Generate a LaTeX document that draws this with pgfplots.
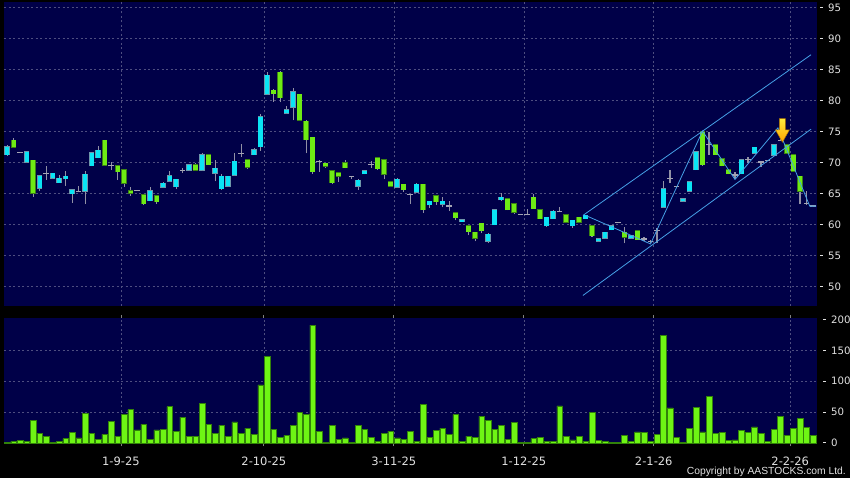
\documentclass[border=0pt]{standalone}
\usepackage{fontspec}
\setmainfont{DejaVu Sans}
\newfontfamily\libsans{Liberation Sans}
\usepackage{pgfplots}
\usepackage{pgfplotstable}
\pgfplotsset{compat=1.18}

\definecolor{navy}{RGB}{0,0,72}
\definecolor{gridc}{RGB}{78,78,128}
\definecolor{cyanc}{RGB}{10,228,245}
\definecolor{cyanb}{RGB}{110,150,170}
\definecolor{greenc}{RGB}{110,235,20}
\definecolor{greenb}{RGB}{60,130,20}
\definecolor{dojic}{RGB}{165,165,180}
\definecolor{wickc}{RGB}{145,145,165}
\definecolor{trendc}{RGB}{70,160,230}
\definecolor{volfill}{RGB}{110,245,20}
\definecolor{voledge}{RGB}{50,130,10}
\definecolor{labelc}{RGB}{225,225,225}
\definecolor{arrowtop}{RGB}{255,235,60}
\definecolor{arrowbot}{RGB}{255,165,0}
\definecolor{arrowedge}{RGB}{170,110,0}

\newcommand{\ytl}[1]{\rule[3.3pt]{3pt}{0.8pt}\hspace{5pt}#1}

\pgfplotsset{nomark/.style={only marks, mark=*, mark size=0pt, mark options={draw=none, fill=none}}}

\pgfplotstableread{
n o h l c
1 71.3 72.8 71.1 72.6
2 73.6 73.9 72.4 72.5
3 71.7 71.8 71.6 71.7
4 70.1 71.9 70.0 71.8
5 70.4 70.5 64.5 65.1
6 65.9 68.0 65.5 67.9
7 68.2 69.4 67.2 68.2
8 67.5 68.4 67.4 68.3
9 66.8 68.0 66.7 67.5
10 67.4 68.6 66.3 67.8
11 65.0 65.7 63.5 65.6
12 65.4 66.3 65.3 65.4
13 65.4 68.6 63.3 68.1
14 69.5 71.7 69.4 71.6
15 70.8 72.7 70.7 72.0
16 73.6 73.7 69.5 69.6
17 69.5 70.1 68.8 69.5
18 69.5 69.6 67.2 68.5
19 68.9 69.0 66.1 66.7
20 65.5 66.1 64.7 65.1
21 65.5 65.6 65.4 65.5
22 64.8 64.9 63.1 63.4
23 63.9 66.0 63.8 65.5
24 64.7 64.8 63.3 63.7
25 66.0 66.9 65.9 66.7
26 67.0 68.6 66.9 67.9
27 66.1 67.4 65.7 67.3
28 68.8 69.2 68.4 68.8
29 68.8 69.8 68.7 69.7
30 69.7 69.9 68.7 68.8
31 68.8 71.5 68.7 71.3
32 71.3 71.4 69.6 69.7
33 68.3 70.5 67.0 69.1
34 65.8 68.2 65.6 67.8
35 66.2 67.9 66.1 67.8
36 68.0 71.6 67.9 70.2
37 71.5 73.0 70.9 71.5
38 70.5 70.6 69.0 69.3
39 71.3 72.4 71.2 72.1
40 72.6 77.8 71.9 77.4
41 81.0 84.6 80.9 84.1
42 81.7 81.8 79.8 81.1
43 84.6 84.7 79.7 80.5
44 78.0 79.1 77.9 78.5
45 78.9 82.1 76.8 81.4
46 81.0 81.1 76.7 76.8
47 76.7 76.8 71.5 73.7
48 74.1 74.2 68.2 68.5
49 70.2 70.5 68.5 70.2
50 69.9 70.0 69.2 69.4
51 68.7 68.8 66.5 66.8
52 68.4 68.5 66.9 67.8
53 70.0 70.5 69.1 69.2
54 67.8 67.9 67.3 67.8
55 66.2 67.3 65.6 67.2
56 68.2 68.8 68.1 68.7
57 69.7 70.2 69.2 69.7
58 70.8 70.9 68.9 69.0
59 70.5 70.6 67.3 68.1
60 66.9 67.0 66.1 66.2
61 66.0 67.5 65.9 67.3
62 66.5 66.6 65.3 65.6
63 64.9 65.0 63.4 64.9
64 65.2 66.7 65.1 66.5
65 66.5 66.6 61.9 62.4
66 63.2 63.9 62.7 63.8
67 64.7 64.8 63.2 63.7
68 63.3 64.4 62.8 63.8
69 63.0 63.8 62.2 63.0
70 61.9 62.0 60.7 61.1
71 60.5 60.9 60.4 60.8
72 59.8 59.9 58.3 58.9
73 58.8 58.9 57.3 57.8
74 60.2 60.3 58.6 59.0
75 57.3 58.7 57.1 58.5
76 60.0 62.5 59.9 62.4
77 64.0 65.1 63.9 64.4
78 64.2 64.3 62.3 62.4
79 63.4 63.5 61.7 62.0
80 61.7 61.8 61.6 61.7
81 61.7 62.5 61.5 61.7
82 64.4 65.0 62.5 62.6
83 62.4 62.5 60.9 61.0
84 59.8 61.3 59.7 61.2
85 61.0 62.3 60.9 62.2
86 62.1 62.8 62.0 62.1
87 61.6 61.7 60.3 60.4
88 59.8 60.8 59.5 60.7
89 61.2 61.3 60.3 60.4
90 61.0 61.6 60.9 61.5
91 59.8 59.9 58.0 58.2
92 57.3 57.8 57.2 57.7
93 57.8 58.9 57.7 58.8
94 59.2 59.9 59.1 59.8
95 60.4 60.5 60.3 60.4
96 58.8 59.7 57.0 58.0
97 57.8 58.3 57.7 58.2
98 59.0 59.1 57.5 57.6
99 57.7 58.0 57.4 57.7
100 57.3 57.5 57.1 57.3
101 59.1 59.4 57.0 59.1
102 62.8 67.1 62.7 65.8
103 67.5 68.8 66.8 67.5
104 66.1 66.2 66.0 66.1
105 63.8 64.3 63.7 64.2
106 65.4 67.0 65.3 66.9
107 68.9 71.9 68.8 71.8
108 75.0 75.1 69.5 69.7
109 72.9 75.0 71.2 72.9
110 72.9 73.0 71.2 71.3
111 70.6 70.7 69.4 69.5
112 68.9 69.0 68.1 68.2
113 68.0 68.5 67.3 68.0
114 68.2 70.6 68.1 70.5
115 70.5 70.9 69.9 70.5
116 71.5 72.6 71.4 72.5
117 70.1 70.2 69.3 70.1
118 70.4 70.5 70.3 70.4
119 71.2 73.0 71.1 72.9
120 73.6 75.6 73.5 73.6
121 72.9 73.0 71.4 71.5
122 71.3 71.4 68.5 68.6
123 67.8 67.9 63.3 65.4
124 63.4 65.5 63.2 63.4
125 63.0 63.1 62.9 63.0
}\candles

\pgfplotstableread{
n v
1 1
2 3
3 4
4 2
5 37
6 15
7 10
8 1
9 3
10 7
11 17
12 8
13 48
14 16
15 6
16 14
17 35
18 11
19 46
20 54
21 21
22 30
23 6
24 21
25 22
26 59
27 19
28 42
29 10
30 10
31 64
32 30
33 16
34 29
35 10
36 34
37 16
38 24
39 14
40 94
41 141
42 22
43 9
44 12
45 29
46 50
47 46
48 191
49 19
50 1
51 28
52 6
53 8
54 1
55 28
56 22
57 9
58 3
59 15
60 19
61 8
62 6
63 19
64 2
65 63
66 9
67 20
68 24
69 14
70 46
71 3
72 11
73 9
74 43
75 36
76 22
77 28
78 6
79 33
80 0.5
81 1
82 7
83 9
84 3
85 3
86 60
87 11
88 5
89 11
90 2
91 49
92 4
93 2
94 1
95 0.5
96 12
97 3
98 18
99 17
100 3
101 14
102 175
103 57
104 9
105 1
106 23
107 58
108 18
109 76
110 15
111 17
112 4
113 5
114 20
115 17
116 26
117 16
118 2
119 22
120 43
121 12
122 23
123 40
124 25
125 12
}\vol

\begin{document}
\begin{tikzpicture}[x=1pt,y=1pt]
\fill[black] (0,0) rectangle (850,478);
\useasboundingbox (0,0) rectangle (850,478);

% ---------------- price panel ----------------
\begin{axis}[
  at={(4pt,172pt)}, anchor=south west, scale only axis,
  width=813pt, height=304pt,
  xmin=0.508, xmax=125.62, ymin=46.9, ymax=95.9,
  axis background/.style={fill=navy},
  axis line style={draw=none},
  tick style={draw=none},
  xtick={18.5,40.5,60.5,80.5,100.5,121.5},
  xticklabels={},
  ytick={50,55,60,65,70,75,80,85,90,95},
  yticklabels={\ytl{50},\ytl{55},\ytl{60},\ytl{65},\ytl{70},\ytl{75},\ytl{80},\ytl{85},\ytl{90},\ytl{95}},
  yticklabel pos=right,
  yticklabel style={anchor=west, inner sep=0pt, xshift=3pt, text=labelc, font=\fontsize{10.2}{12}\selectfont},
  grid=major,
  major grid style={draw=gridc, line width=0.6pt, dash pattern=on 2pt off 2.5pt},
]
% wicks
\addplot[nomark,
  error bars/.cd, y dir=plus, y explicit, error mark=none,
  error bar style={line width=1.1pt, color=wickc, draw=wickc}]
  table[x=n, y=l, y error plus expr={\thisrow{h}-\thisrow{l}}] {\candles};
% up bodies
\addplot[nomark,
  restrict expr to domain={\thisrow{c}-\thisrow{o}}{0.01:100},
  error bars/.cd, y dir=plus, y explicit, error mark=none,
  error bar style={line width=5.6pt, draw=cyanb, line cap=butt}]
  table[x=n, y expr={min(\thisrow{o},\thisrow{c})-0.08}, y error plus expr={abs(\thisrow{c}-\thisrow{o})+0.16}] {\candles};
\addplot[nomark,
  restrict expr to domain={\thisrow{c}-\thisrow{o}}{0.01:100},
  error bars/.cd, y dir=plus, y explicit, error mark=none,
  error bar style={line width=4.3pt, draw=cyanc, line cap=butt}]
  table[x=n, y expr={min(\thisrow{o},\thisrow{c})}, y error plus expr={abs(\thisrow{c}-\thisrow{o})}] {\candles};
% down bodies
\addplot[nomark,
  restrict expr to domain={\thisrow{c}-\thisrow{o}}{-100:-0.01},
  error bars/.cd, y dir=plus, y explicit, error mark=none,
  error bar style={line width=5.6pt, draw=greenb, line cap=butt}]
  table[x=n, y expr={min(\thisrow{o},\thisrow{c})-0.08}, y error plus expr={abs(\thisrow{c}-\thisrow{o})+0.16}] {\candles};
\addplot[nomark,
  restrict expr to domain={\thisrow{c}-\thisrow{o}}{-100:-0.01},
  error bars/.cd, y dir=plus, y explicit, error mark=none,
  error bar style={line width=4.3pt, draw=greenc, line cap=butt}]
  table[x=n, y expr={min(\thisrow{o},\thisrow{c})}, y error plus expr={abs(\thisrow{c}-\thisrow{o})}] {\candles};
% doji bodies
\addplot[nomark,
  restrict expr to domain={\thisrow{c}-\thisrow{o}}{-0.005:0.005},
  error bars/.cd, y dir=plus, y explicit, error mark=none,
  error bar style={line width=5.6pt, draw=dojic, line cap=butt}]
  table[x=n, y expr={\thisrow{c}-0.1}, y error plus expr={0.2}] {\candles};
% trend channel
\addplot[trendc, line width=0.8pt] coordinates {(89.6,61.5) (124.7,87.4)};
\addplot[trendc, line width=0.8pt] coordinates {(89.6,48.6) (124.7,75.4)};
\addplot[trendc, line width=0.8pt] coordinates {(90,61.5) (100,56.9) (108,75.1) (113,67.3) (119.6,75.6) (124.5,63.0) (125.5,63.0)};
% arrow
\path[draw=arrowedge, line width=0.5pt, top color=arrowtop, bottom color=arrowbot]
  (axis cs:119.84,77.1) -- (axis cs:120.76,77.1) -- (axis cs:120.76,75.3) -- (axis cs:121.38,75.3)
  -- (axis cs:120.3,73.3) -- (axis cs:119.22,75.3) -- (axis cs:119.84,75.3) -- cycle;
\end{axis}

% ---------------- volume panel ----------------
\begin{axis}[
  at={(4pt,34.5pt)}, anchor=south west, scale only axis,
  width=813pt, height=125.5pt,
  xmin=0.508, xmax=125.62, ymin=-1, ymax=202.7,
  axis background/.style={fill=navy},
  axis line style={draw=none},
  tick align=outside, major tick length=3pt,
  xtick style={draw=gray, line width=0.8pt},
  ytick style={draw=none},
  xtick={18.5,40.5,60.5,80.5,100.5,121.5},
  xticklabels={1-9-25,2-10-25,3-11-25,1-12-25,2-1-26,2-2-26},
  xticklabel style={anchor=base, yshift=-18.8pt, inner sep=0pt, text=labelc, font=\fontsize{11.5}{12}\selectfont},
  ytick={50,100,150},
  yticklabels={\ytl{50},\ytl{100},\ytl{150}},
  extra y ticks={0,200},
  extra y tick labels={\ytl{0},\ytl{200}},
  extra y tick style={grid=none},
  yticklabel pos=right,
  yticklabel style={anchor=west, inner sep=0pt, xshift=3pt, text=labelc, font=\fontsize{10.2}{12}\selectfont},
  grid=major,
  major grid style={draw=gridc, line width=0.6pt, dash pattern=on 2pt off 2.5pt},
]
\addplot[ybar, bar width=0.86, fill=volfill, draw=voledge, line width=0.5pt] table[x=n, y=v] {\vol};
\end{axis}

\node[anchor=base east, inner sep=0pt, text=labelc, font=\libsans\fontsize{10.3}{12}\selectfont] at (846,3) {Copyright by AASTOCKS.com Ltd.};
\end{tikzpicture}
\end{document}
